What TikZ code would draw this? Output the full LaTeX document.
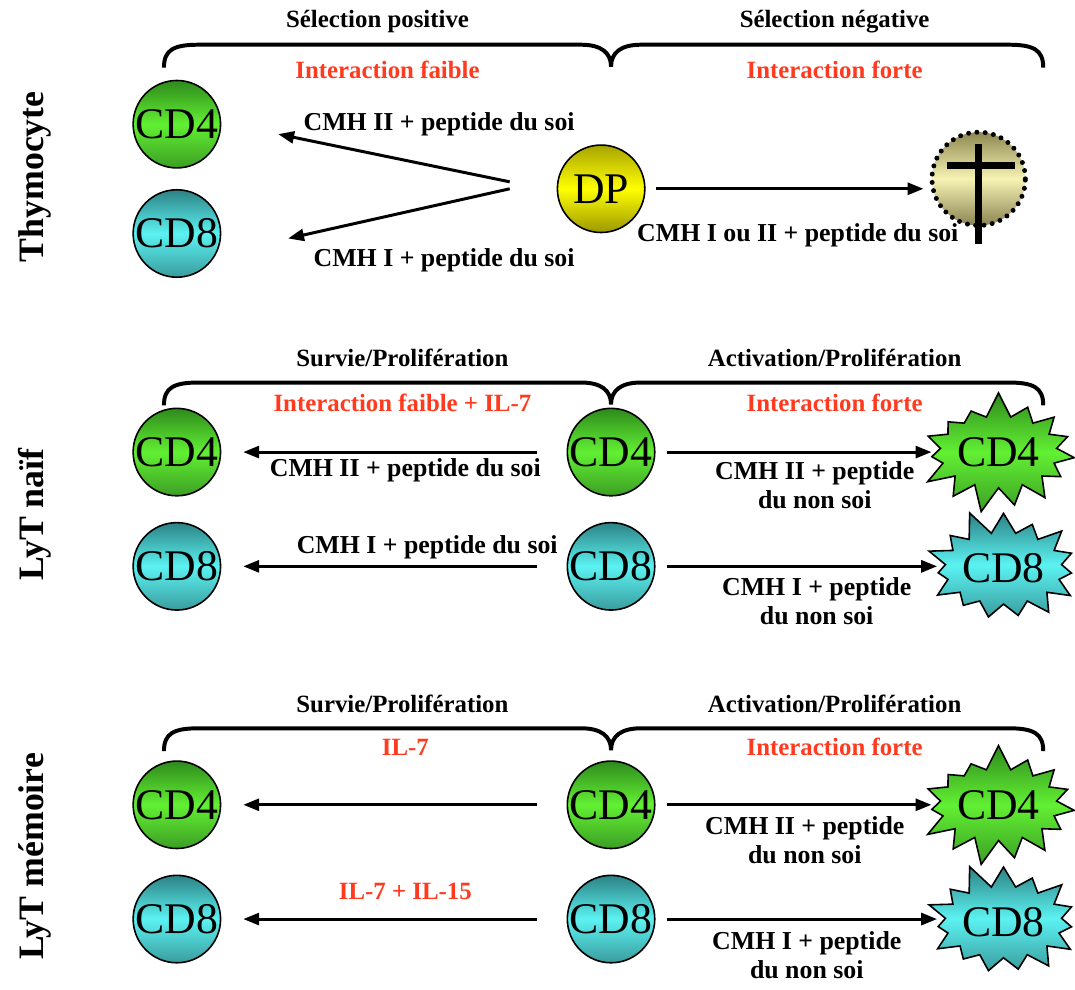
\documentclass[tikz,border=0pt]{standalone}
\usepackage{fontspec}
\setmainfont{Liberation Serif}
\usetikzlibrary{arrows.meta,shapes.symbols}

\definecolor{hintred}{HTML}{FF3A1F}
\definecolor{gtop}{HTML}{2E8A1C}
\definecolor{gmid}{HTML}{62F033}
\definecolor{gbot}{HTML}{3C9E24}
\definecolor{ctop}{HTML}{2C8284}
\definecolor{cmid}{HTML}{5CF2F2}
\definecolor{cbot}{HTML}{3A9C9E}
\definecolor{ytop}{HTML}{A8A400}
\definecolor{ymid}{HTML}{FFFF00}
\definecolor{ybot}{HTML}{9C9800}
\definecolor{dtop}{HTML}{8E8850}
\definecolor{dmid}{HTML}{F6F3B4}
\definecolor{dbot}{HTML}{8A8452}

\tikzset{
    cell/.style={circle, draw, line width=0.8pt, minimum size=44pt, inner sep=0pt, font=\fontsize{22}{22}\selectfont},
    cdfour/.style={cell, top color=gtop, bottom color=gbot, middle color=gmid},
    cdeight/.style={cell, top color=ctop, bottom color=cbot, middle color=cmid},
    dpcell/.style={cell, top color=ytop, bottom color=ybot, middle color=ymid},
    deadcell/.style={circle, draw, line width=2.5pt, line cap=round, dash pattern=on 0pt off 4.2pt, minimum size=47pt, inner sep=0pt, top color=dtop, bottom color=dbot, middle color=dmid},
    burst/.style={starburst, starburst points=15, starburst point height=13pt, draw, line width=0.8pt, inner sep=0pt, minimum size=62pt, font=\fontsize{22}{22}\selectfont},
    burstfour/.style={burst, random starburst=7, top color=gtop, bottom color=gbot, middle color=gmid},
    bursteight/.style={burst, random starburst=11, top color=ctop, bottom color=cbot, middle color=cmid},
    link/.style={line width=1.5pt, -{Triangle[length=8pt,width=6pt]}},
    lab/.style={font=\fontsize{13}{14.5}\selectfont\bfseries, align=center},
    head/.style={font=\fontsize{12.5}{14}\selectfont\bfseries},
    hint/.style={head, text=hintred},
    rowlab/.style={rotate=90, font=\fontsize{18}{18}\selectfont\bfseries},
    brace/.style={line width=2pt},
    crossbar/.style={line width=3.5pt}
}

% brace over a row, #1 = height of its top line
\newcommand{\rowbrace}[1]{%
    \draw[brace, shift={(0,#1)}] (165,23) .. controls (165,5) and (175,0) .. (200,0)
        -- (585,0) .. controls (605,0) and (615,8) .. (615,22)
        .. controls (615,8) and (625,0) .. (645,0)
        -- (1015,0) .. controls (1040,0) and (1050,5) .. (1050,23);}

\begin{document}
\begin{tikzpicture}[x=0.5pt, y=-0.5pt]
\fill[white] (0,0) rectangle (1075,996);

% ===== Row 1: thymocyte =====
\node[rowlab] (rthy) at (35,178) {Thymocyte};
\rowbrace{45}
\node[head] (hpos) at (380,22) {Sélection positive};
\node[head] (hneg) at (840,22) {Sélection négative};
\node[hint] (ipos) at (390,70) {Interaction faible};
\node[hint] (ineg) at (840,70) {Interaction forte};

\node[cdfour]  (t4) at (178,125) {CD4};
\node[cdeight] (t8) at (178,235) {CD8};
\node[dpcell]  (dp) at (605,190) {DP};
\node[deadcell] (dead) at (985,180) {};
\draw[crossbar] ([yshift=17.5pt]dead.center) -- ([yshift=-33pt]dead.center);
\draw[crossbar] ([xshift=-16pt,yshift=6.5pt]dead.center) -- ([xshift=18.5pt,yshift=6.5pt]dead.center);

\coordinate (forkup) at (513,183);
\coordinate (forkdn) at (513,190);
\coordinate (tipup) at (280,135);
\coordinate (tipdn) at (290,240);
\draw[link] (forkup) -- (tipup);
\draw[link] (forkdn) -- (tipdn);
\draw[link, shorten <=5pt, shorten >=3pt] (dp.east) -- (dp.east -| dead.west);

\node[lab] (lt4) at (442,125) {CMH II + peptide du soi};
\node[lab] (lt8) at (447,262) {CMH I + peptide du soi};
\node[lab] (ldp) at (803,237) {CMH I ou II + peptide du soi};

% ===== Row 2: naive T cells =====
\node[rowlab] (rnai) at (35,518) {LyT naïf};
\rowbrace{385}
\node[head] (hsur) at (405,360) {Survie/Prolifération};
\node[head] (hact) at (840,360) {Activation/Prolifération};
\node[hint] (isur) at (405,405) {Interaction faible + IL-7};
\node[hint] (iact) at (840,405) {Interaction forte};

\node[cdfour]  (n4l) at (178,455) {CD4};
\node[cdeight] (n8l) at (178,570) {CD8};
\node[cdfour]  (n4m) at (615,455) {CD4};
\node[cdeight] (n8m) at (615,570) {CD8};
\node[burstfour]  (n4s) at (1005,455) {CD4};
\node[bursteight] (n8s) at (1010,572) {CD8};

\draw[link, shorten <=15pt, shorten >=11pt] (n4m) -- (n4l);
\draw[link, shorten <=15pt, shorten >=11pt] (n8m) -- (n8l);
\draw[link, shorten <=6pt, shorten >=2pt] (n4m.east) -- (n4m.east -| n4s.west);
\draw[link, shorten <=6pt, shorten >=2pt] (n8m.east) -- (n8m.east -| n8s.west);

\node[lab] (ln4l) at (408,473) {CMH II + peptide du soi};
\node[lab] (ln8l) at (430,551) {CMH I + peptide du soi};
\node[lab] (ln4s) at (820,488) {CMH II + peptide\\du non soi};
\node[lab] (ln8s) at (822,605) {CMH I + peptide\\du non soi};

% ===== Row 3: memory T cells =====
\node[rowlab] (rmem) at (35,862) {LyT mémoire};
\rowbrace{733}
\node[head] (hsur3) at (405,708) {Survie/Prolifération};
\node[head] (hact3) at (840,708) {Activation/Prolifération};
\node[hint] (isur3) at (408,752) {IL-7};
\node[hint] (iact3) at (840,752) {Interaction forte};

\node[cdfour]  (m4l) at (178,810) {CD4};
\node[cdeight] (m8l) at (178,925) {CD8};
\node[cdfour]  (m4m) at (615,810) {CD4};
\node[cdeight] (m8m) at (615,925) {CD8};
\node[burstfour]  (m4s) at (1005,810) {CD4};
\node[bursteight] (m8s) at (1010,928) {CD8};

\draw[link, shorten <=15pt, shorten >=11pt] (m4m) -- (m4l);
\draw[link, shorten <=15pt, shorten >=11pt] (m8m) -- (m8l);
\draw[link, shorten <=6pt, shorten >=2pt] (m4m.east) -- (m4m.east -| m4s.west);
\draw[link, shorten <=6pt, shorten >=2pt] (m8m.east) -- (m8m.east -| m8s.west);

\node[hint] (il15) at (408,897) {IL-7 + IL-15};
\node[lab] (lm4s) at (810,846) {CMH II + peptide\\du non soi};
\node[lab] (lm8s) at (812,961) {CMH I + peptide\\du non soi};

\end{tikzpicture}
\end{document}
